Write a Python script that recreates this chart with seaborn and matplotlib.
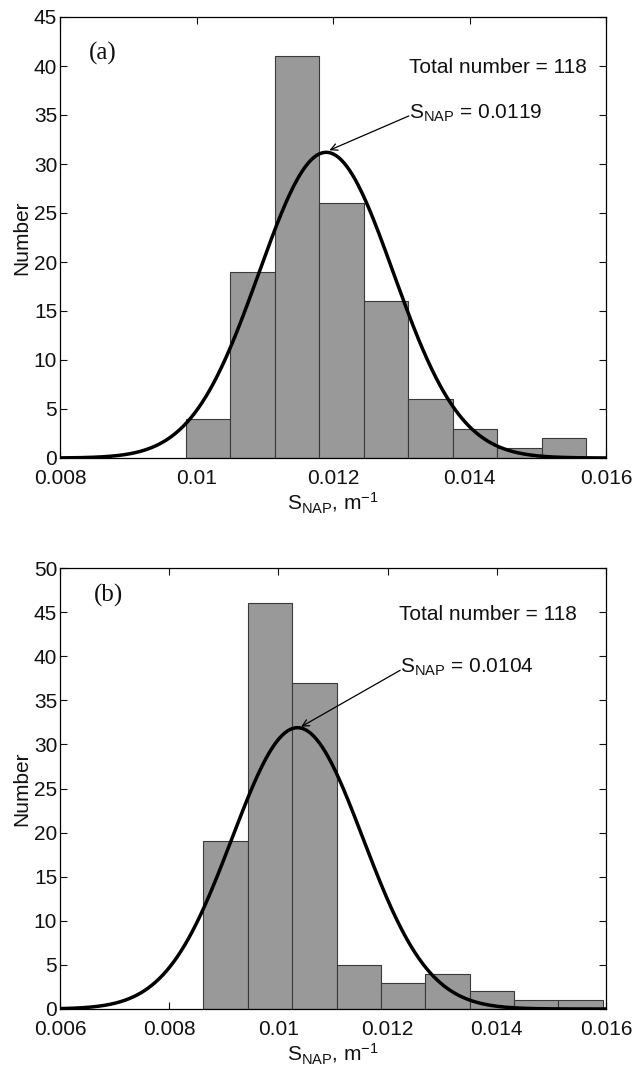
import numpy as np
import pandas as pd
import matplotlib
matplotlib.use("Agg")
import matplotlib.pyplot as plt
import seaborn as sns

# ---------------- data ----------------
total_number = 118

# panel (a)
counts_a = [4, 19, 41, 26, 16, 6, 3, 1, 2]
first_edge_a = 0.009846
bin_width_a = 0.000652
fit_mean_a = 0.0119
fit_sigma_a = 0.000984
label_a = "0.0119"
xticks_a = [0.008, 0.010, 0.012, 0.014, 0.016]
xticklabels_a = ["0.008", "0.01", "0.012", "0.014", "0.016"]
yticks_a = [0, 5, 10, 15, 20, 25, 30, 35, 40, 45]

# panel (b)
counts_b = [19, 46, 37, 5, 3, 4, 2, 1, 1]
first_edge_b = 0.008626
bin_width_b = 0.000813
fit_mean_b = 0.01035
fit_sigma_b = 0.0012
label_b = "0.0104"
xticks_b = [0.006, 0.008, 0.010, 0.012, 0.014, 0.016]
xticklabels_b = ["0.006", "0.008", "0.01", "0.012", "0.014", "0.016"]
yticks_b = [0, 5, 10, 15, 20, 25, 30, 35, 40, 45, 50]

# ---------------- style ----------------
sns.set_theme(style="ticks")
plt.rcParams["font.family"] = ["Liberation Sans", "DejaVu Sans"]
plt.rcParams["mathtext.fontset"] = "custom"
plt.rcParams["mathtext.rm"] = "Liberation Sans"
plt.rcParams["mathtext.it"] = "Liberation Sans:italic"
plt.rcParams["mathtext.default"] = "regular"
plt.rcParams["text.color"] = "#111111"
plt.rcParams["axes.labelcolor"] = "#111111"

FS = 15
fig = plt.figure(figsize=(6.34, 10.74), dpi=100)
ax_a = fig.add_axes([60 / 634, 1 - 458 / 1074, 546 / 634, 441 / 1074])
ax_b = fig.add_axes([60 / 634, 1 - 1009 / 1074, 546 / 634, 441 / 1074])


def panel(ax, counts, first_edge, width, mean, sigma, xticks, xticklabels,
          yticks, tag, tag_pos, total_pos, snap_text, arrow_tail, arrow_head):
    n = len(counts)
    edges = [first_edge + width * i for i in range(n + 1)]
    centers = [(edges[i] + edges[i + 1]) / 2 for i in range(n)]
    df = pd.DataFrame({"x": centers, "w": counts})
    sns.histplot(data=df, x="x", weights="w", bins=edges, ax=ax,
                 color="#999999", edgecolor="#3a3a3a", linewidth=0.8,
                 alpha=1.0)
    xs = np.linspace(xticks[0], xticks[-1], 600)
    ys = total_number * width / (sigma * np.sqrt(2 * np.pi)) * \
        np.exp(-0.5 * ((xs - mean) / sigma) ** 2)
    sns.lineplot(x=xs, y=ys, ax=ax, color="black", linewidth=2.5)

    ax.set_xlim(xticks[0], xticks[-1])
    ax.set_ylim(yticks[0], yticks[-1])
    ax.set_xticks(xticks)
    ax.set_xticklabels(xticklabels)
    ax.set_yticks(yticks)
    ax.tick_params(direction="in", top=True, right=True, length=5,
                   width=0.8, labelsize=FS, colors="#111111")
    ax.tick_params(axis="x", pad=8)
    ax.tick_params(axis="y", pad=2)
    for s in ax.spines.values():
        s.set_visible(True)
        s.set_color("black")
        s.set_linewidth(0.9)
    ax.set_xlabel(r"S$_{NAP}$, m$^{-1}$", fontsize=FS, labelpad=2)
    ax.set_ylabel("Number", fontsize=FS, labelpad=2)

    ax.text(tag_pos[0], tag_pos[1], tag, fontsize=18,
            family=["Liberation Serif", "DejaVu Serif"], ha="left",
            va="baseline")
    ax.text(total_pos[0], total_pos[1], "Total number = %d" % total_number,
            fontsize=FS, ha="left", va="baseline")
    ax.text(arrow_tail[0], arrow_tail[1], r"S$_{NAP}$ = " + snap_text,
            fontsize=FS, ha="left", va="baseline")
    ax.annotate("", xy=arrow_head, xytext=(arrow_tail[0], arrow_tail[1] + 0.3),
                arrowprops=dict(arrowstyle="->", color="black", lw=0.9,
                                shrinkA=0, shrinkB=0, mutation_scale=12))


panel(ax_a, counts_a, first_edge_a, bin_width_a, fit_mean_a, fit_sigma_a,
      xticks_a, xticklabels_a, yticks_a, "(a)", (0.00843, 40.7),
      (0.01311, 39.3), label_a, (0.01311, 34.6), (0.011947, 31.4))
panel(ax_b, counts_b, first_edge_b, bin_width_b, fit_mean_b, fit_sigma_b,
      xticks_b, xticklabels_b, yticks_b, "(b)", (0.00662, 46.2),
      (0.01221, 44.1), label_b, (0.01223, 38.1), (0.010416, 32.0))

fig.savefig("out.png", dpi=100)
